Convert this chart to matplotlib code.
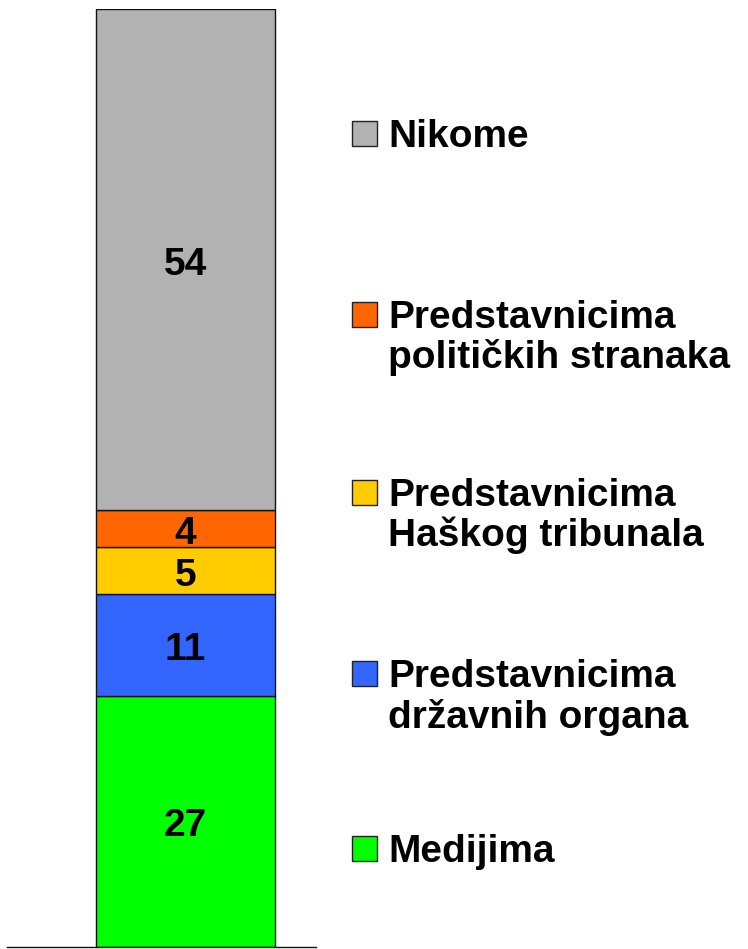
import matplotlib
matplotlib.use("Agg")
import matplotlib.pyplot as plt
from matplotlib.patches import Rectangle

plt.rcParams['font.family'] = ['Liberation Sans', 'DejaVu Sans']

# stacked segments, bottom to top
labels = ["Medijima",
          "Predstavnicima\ndržavnih organa",
          "Predstavnicima\nHaškog tribunala",
          "Predstavnicima\npolitičkih stranaka",
          "Nikome"]
values = [27, 11, 5, 4, 54]
colors = ["#00FF00", "#3366FF", "#FFCC00", "#FF6600", "#B2B2B2"]

W, H = 748, 949
FS = 28
fig = plt.figure(figsize=(W / 100, H / 100), dpi=100)

# bar axes, placed in pixel terms
ax_left, ax_right, ax_top, ax_bottom = 7, 316, 9.3, 946.5
ax = fig.add_axes([ax_left / W, (H - ax_bottom) / H,
                   (ax_right - ax_left) / W, (ax_bottom - ax_top) / H])

bottom = 0
for v, c in zip(values, colors):
    ax.bar(0, v, width=1.0, bottom=bottom, color=c, edgecolor="#111111",
           linewidth=1.0)
    # baseline a half cap-height below the segment middle
    ax.annotate(str(v), xy=(0, bottom + v / 2), xytext=(0, -10.8),
                textcoords="offset points", ha="center", va="baseline",
                fontsize=FS, fontweight="bold", color="black")
    bottom += v

ax.set_xlim(-1.0, 0.73)
ax.set_ylim(0, sum(values))
for s in ["left", "right", "top"]:
    ax.spines[s].set_visible(False)
ax.spines["bottom"].set_color("#111111")
ax.spines["bottom"].set_linewidth(1.0)
ax.set_xticks([])
ax.set_yticks([])

# legend drawn by hand on a full-figure overlay (pixel coords, y down)
lg = fig.add_axes([0, 0, 1, 1])
lg.set_xlim(0, W)
lg.set_ylim(H, 0)
lg.axis("off")

baselines = [862, 687, 506, 328, 147]
line_step = 40.5
for lab, c, y in zip(labels, colors, baselines):
    lg.add_patch(Rectangle((352, y - 26), 25, 25, facecolor=c,
                           edgecolor="#222222", linewidth=1.0))
    for i, line in enumerate(lab.split("\n")):
        lg.text(388, y + i * line_step, line, ha="left", va="baseline",
                fontsize=FS, fontweight="bold", color="black")

fig.savefig("out.png", dpi=100)
